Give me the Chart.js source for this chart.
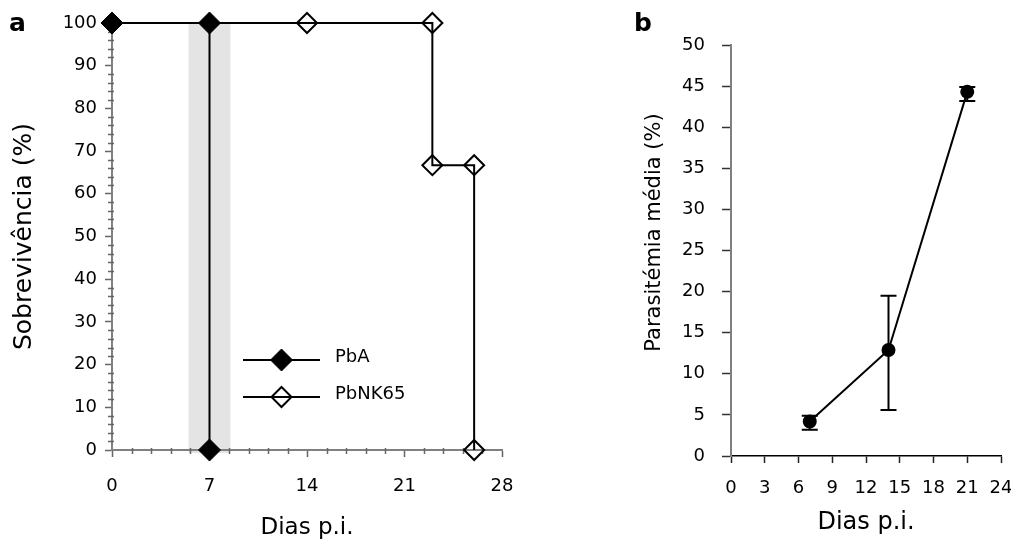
<!DOCTYPE html>
<html>
<head>
<meta charset="utf-8">
<script src="https://cdn.jsdelivr.net/npm/chart.js@4.4.1/dist/chart.umd.min.js"></script>
<style>
  html, body { margin: 0; padding: 0; background: #fff; overflow: hidden; }
  #wrap { position: relative; width: 1011px; height: 542px; overflow: hidden; }
  canvas { position: absolute; top: 0; }
  #survival { left: 0; }
  #parasit { left: 600px; }
</style>
</head>
<body>
<div id="wrap">
  <canvas id="survival" width="560" height="542"></canvas>
  <canvas id="parasit" width="430" height="542"></canvas>
</div>
<script>
// ---- panel a: survival curves ----
const pbaDays = [0, 7, 7];
const pbaSurv = [100, 100, 0];
const nk65Days = [0, 14, 23, 23, 26, 26];
const nk65Surv = [100, 100, 100, 66.7, 66.7, 0];
const nk65HasMarker = [false, true, true, true, true, true];
const survXTicks = [0, 7, 14, 21, 28];
const survYTicks = [0, 10, 20, 30, 40, 50, 60, 70, 80, 90, 100];
const shadedDays = [5.5, 8.5];

// ---- panel b: mean parasitaemia ----
const parDays = [7, 14, 21];
const parMean = [4.2, 12.9, 44.3];
const parLow = [3.2, 5.6, 43.2];
const parHigh = [4.9, 19.5, 44.9];
const parXTicks = [0, 3, 6, 9, 12, 15, 18, 21, 24];
const parYTicks = [0, 5, 10, 15, 20, 25, 30, 35, 40, 45, 50];

const FONT = '"DejaVu Sans", Verdana, sans-serif';
Chart.defaults.font.family = FONT;
Chart.defaults.color = '#000';
Chart.defaults.animation = false;

const toXY = (xs, ys) => xs.map((x, i) => ({ x: x, y: ys[i] }));
const fixedTicks = list => scale => { scale.ticks = list.map(v => ({ value: v })); };

// grey band behind everything
const shadeBand = {
  id: 'shadeBand',
  beforeDraw(chart, args, opts) {
    if (!opts.range) return;
    const { ctx, scales: { x, y } } = chart;
    const x0 = x.getPixelForValue(opts.range[0]);
    const x1 = x.getPixelForValue(opts.range[1]);
    const top = y.getPixelForValue(y.max);
    const bottom = y.getPixelForValue(y.min);
    ctx.save();
    ctx.fillStyle = opts.color;
    ctx.fillRect(x0, top, x1 - x0, bottom - top + 3);
    ctx.restore();
  }
};

// small unlabelled ticks between the major ones
const minorTicks = {
  id: 'minorTicks',
  beforeDatasetsDraw(chart, args, opts) {
    if (!opts.xStep) return;
    const { ctx, scales: { x, y } } = chart;
    const isMajor = (scale, v) => scale.ticks.some(t => Math.abs(t.value - v) < 1e-6);
    const xb = y.getPixelForValue(y.min), yl = x.getPixelForValue(x.min);
    ctx.save();
    ctx.strokeStyle = opts.color;
    ctx.lineWidth = 1.5;
    ctx.beginPath();
    for (let v = x.min + opts.xStep; v < x.max - 1e-6; v += opts.xStep) {
      if (isMajor(x, v)) continue;
      const px = Math.round(x.getPixelForValue(v)) + 0.5;
      ctx.moveTo(px, xb - 2);
      ctx.lineTo(px, xb + 4);
    }
    for (let v = y.min + opts.yStep; v < y.max - 1e-6; v += opts.yStep) {
      if (isMajor(y, v)) continue;
      const py = Math.round(y.getPixelForValue(v)) + 0.5;
      ctx.moveTo(yl - 4, py);
      ctx.lineTo(yl + 2, py);
    }
    ctx.stroke();
    ctx.restore();
  }
};

// legend with the line running through the marker
const lineLegend = {
  id: 'lineLegend',
  afterDatasetsDraw(chart, args, opts) {
    if (!opts.show) return;
    const { ctx, chartArea } = chart;
    chart.data.datasets.forEach((ds, i) => {
      const y = chartArea.top + opts.top + i * opts.gap;
      const x0 = chartArea.left + opts.left;
      const cx = x0 + opts.lineLen / 2;
      const r = Array.isArray(ds.pointRadius) ? Math.max(...ds.pointRadius) : ds.pointRadius;
      ctx.save();
      ctx.strokeStyle = ds.borderColor;
      ctx.lineWidth = ds.borderWidth;
      ctx.beginPath();
      ctx.moveTo(x0, y);
      ctx.lineTo(x0 + opts.lineLen, y);
      ctx.stroke();
      ctx.beginPath();
      ctx.moveTo(cx - r, y);
      ctx.lineTo(cx, y - r);
      ctx.lineTo(cx + r, y);
      ctx.lineTo(cx, y + r);
      ctx.closePath();
      ctx.fillStyle = ds.pointBackgroundColor;
      ctx.fill();
      ctx.lineWidth = ds.pointBorderWidth;
      ctx.strokeStyle = ds.pointBorderColor;
      ctx.stroke();
      ctx.fillStyle = '#000';
      ctx.font = '18px ' + FONT;
      ctx.textBaseline = 'middle';
      ctx.fillText(ds.label, x0 + opts.textOffset, y - 3);
      ctx.restore();
    });
  }
};

// vertical error bars with caps
const errorBars = {
  id: 'errorBars',
  afterDatasetsDraw(chart, args, opts) {
    if (!opts.low) return;
    const { ctx, scales: { x, y } } = chart;
    ctx.save();
    ctx.strokeStyle = '#000';
    ctx.lineWidth = 2;
    opts.xs.forEach((d, i) => {
      const px = x.getPixelForValue(d);
      const yl = y.getPixelForValue(opts.low[i]);
      const yh = y.getPixelForValue(opts.high[i]);
      ctx.beginPath();
      ctx.moveTo(px, yl); ctx.lineTo(px, yh);
      ctx.moveTo(px - opts.cap, yl); ctx.lineTo(px + opts.cap, yl);
      ctx.moveTo(px - opts.cap, yh); ctx.lineTo(px + opts.cap, yh);
      ctx.stroke();
    });
    ctx.restore();
  }
};

// rotated y title, a bit above the middle of the axis
const sideTitle = {
  id: 'sideTitle',
  afterDraw(chart, args, opts) {
    if (!opts.text) return;
    const { ctx, chartArea } = chart;
    ctx.save();
    ctx.translate(opts.x, (chartArea.top + chartArea.bottom) / 2 + opts.dy);
    ctx.rotate(-Math.PI / 2);
    ctx.font = opts.size + 'px ' + FONT;
    ctx.fillStyle = '#000';
    ctx.textAlign = 'center';
    ctx.textBaseline = 'middle';
    ctx.fillText(opts.text, 0, 0);
    ctx.restore();
  }
};

// bold panel letter
const panelLetter = {
  id: 'panelLetter',
  afterDraw(chart, args, opts) {
    const ctx = chart.ctx;
    ctx.save();
    ctx.font = 'bold 25px ' + FONT;
    ctx.fillStyle = '#000';
    ctx.textBaseline = 'alphabetic';
    ctx.fillText(opts.text, opts.x, opts.y);
    ctx.restore();
  }
};

// ---------- chart a ----------
new Chart(document.getElementById('survival'), {
  type: 'line',
  data: {
    datasets: [
      {
        label: 'PbA',
        data: toXY(pbaDays, pbaSurv),
        borderColor: '#000',
        borderWidth: 2,
        pointStyle: 'rectRot',
        pointRadius: 11,
        pointBackgroundColor: '#000',
        pointBorderColor: '#000',
        pointBorderWidth: 1,
        tension: 0,
        clip: false
      },
      {
        label: 'PbNK65',
        data: toXY(nk65Days, nk65Surv),
        borderColor: '#000',
        borderWidth: 2,
        pointStyle: 'rectRot',
        pointRadius: nk65HasMarker.map(m => m ? 10 : 0),
        pointBackgroundColor: 'rgba(0,0,0,0)',
        pointBorderColor: '#000',
        pointBorderWidth: 2,
        tension: 0,
        clip: false
      }
    ]
  },
  options: {
    responsive: false,
    layout: { padding: { left: 0, top: 23, right: 58, bottom: 0 } },
    plugins: {
      legend: { display: false },
      tooltip: { enabled: false },
      shadeBand: { range: shadedDays, color: '#e4e4e4' },
      minorTicks: { xStep: 1.4, yStep: 2, color: '#666' },
      lineLegend: { show: true, left: 131, top: 337, gap: 37, lineLen: 77, textOffset: 92 },
      panelLetter: { text: 'a', x: 9, y: 31 }
    },
    scales: {
      x: {
        type: 'linear', min: 0, max: 28,
        afterBuildTicks: fixedTicks(survXTicks),
        afterFit: s => { s.height = 92; },
        grid: { drawOnChartArea: false, tickLength: 7, tickColor: '#666', tickWidth: 1.5 },
        border: { color: '#808080', width: 2 },
        ticks: { padding: 19, font: { size: 18 }, color: '#000', maxRotation: 0 },
        title: { display: true, text: 'Dias p.i.', font: { size: 23 }, color: '#000', padding: { top: 0, bottom: 0 } }
      },
      y: {
        type: 'linear', min: 0, max: 100,
        afterBuildTicks: fixedTicks(survYTicks),
        afterFit: s => { s.width = 112; },
        grid: { drawOnChartArea: false, tickLength: 7, tickColor: '#666', tickWidth: 1.5 },
        border: { color: '#808080', width: 2 },
        ticks: { padding: 8, font: { size: 18 }, color: '#000' },
        title: { display: true, text: 'Sobrevivência (%)', font: { size: 25 }, color: '#000', padding: { top: 9, bottom: 0 } }
      }
    }
  },
  plugins: [shadeBand, minorTicks, lineLegend, panelLetter]
});

// ---------- chart b ----------
new Chart(document.getElementById('parasit'), {
  type: 'line',
  data: {
    datasets: [{
      label: 'Parasitémia',
      data: toXY(parDays, parMean),
      borderColor: '#000',
      borderWidth: 2,
      pointStyle: 'circle',
      pointRadius: 6,
      pointBackgroundColor: '#000',
      pointBorderColor: '#000',
      tension: 0,
      clip: false
    }]
  },
  options: {
    responsive: false,
    layout: { padding: { left: 0, top: 45, right: 29, bottom: 0 } },
    plugins: {
      legend: { display: false },
      tooltip: { enabled: false },
      errorBars: { xs: parDays, low: parLow, high: parHigh, cap: 8 },
      sideTitle: { text: 'Parasitémia média (%)', size: 21, x: 55, dy: -18 },
      panelLetter: { text: 'b', x: 34, y: 31 }
    },
    scales: {
      x: {
        type: 'linear', min: 0, max: 24,
        afterBuildTicks: fixedTicks(parXTicks),
        afterFit: s => { s.height = 86; },
        grid: { drawOnChartArea: false, tickLength: 7, tickColor: '#222', tickWidth: 1.5 },
        border: { color: '#000', width: 1.5 },
        ticks: { padding: 15, font: { size: 18 }, color: '#000', maxRotation: 0 },
        title: { display: true, text: 'Dias p.i.', font: { size: 24 }, color: '#000', padding: { top: 0, bottom: 5 } }
      },
      y: {
        type: 'linear', min: 0, max: 50,
        afterBuildTicks: fixedTicks(parYTicks),
        afterFit: s => { s.width = 131; },
        grid: { drawOnChartArea: false, tickLength: 9, tickColor: '#333', tickWidth: 1.5 },
        border: { color: '#808080', width: 2 },
        ticks: { padding: 17, font: { size: 18 }, color: '#000' },
        title: { display: false }
      }
    }
  },
  plugins: [errorBars, sideTitle, panelLetter]
});
</script>
</body>
</html>
